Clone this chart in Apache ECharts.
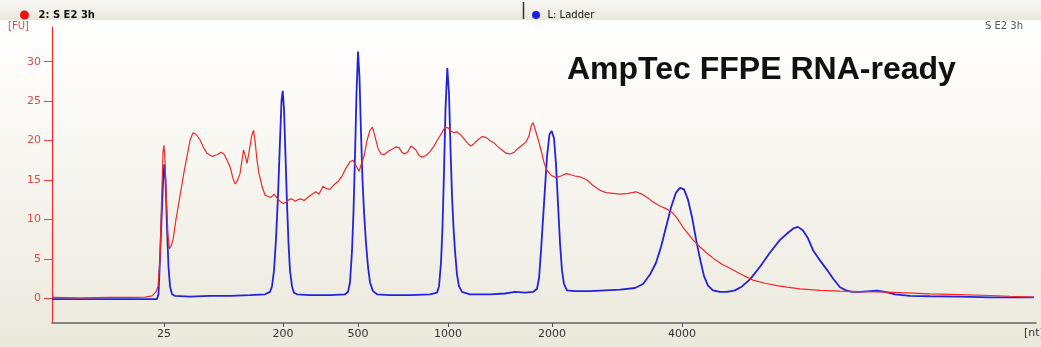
<!DOCTYPE html>
<html>
<head>
<meta charset="utf-8">
<script src="https://cdn.jsdelivr.net/npm/echarts@6/dist/echarts.min.js"></script>
<style>
  html, body { margin: 0; padding: 0; }
  #chart {
    width: 1041px;
    height: 347px;
    background: linear-gradient(to bottom, #ffffff 0%, #fbfaf7 30%, #f1efe6 75%, #ebe8dc 100%);
  }
</style>
</head>
<body>
<div id="chart"></div>
<script>
// electropherogram, x = migration position, y = fluorescence [FU]
const sampleName = '2: S E2 3h';
const ladderName = 'L: Ladder';

// sample trace (red)
const sampleTrace = [
  [52, 0.1], [80, 0.05], [110, 0.1], [130, 0.1], [145, 0.15], [152, 0.3], [156, 0.8], [158, 1.5],
  [160, 5], [161.5, 12], [163, 18.5], [164, 19.4], [165, 17.5], [166.5, 12], [168, 8], [169.5, 6.3],
  [171, 6.6], [173, 7.4], [176, 10], [180, 13], [184, 16], [187, 18], [190, 20], [193, 21],
  [196, 20.8], [200, 20.1], [204, 19], [207, 18.4], [212, 18.0], [217, 18.2], [221, 18.5], [224, 18.3],
  [227, 17.5], [230, 16.7], [233, 15.2], [235, 14.5], [237, 14.8], [240, 15.8], [242, 17.5], [243.5, 18.8],
  [245, 18.2], [247, 17.1], [249, 18.5], [251.5, 20.5], [253.5, 21.3], [255, 20], [257, 17.5], [259, 15.8],
  [262, 14.2], [265, 13.1], [268, 12.9], [271, 12.8], [274, 13.2], [277, 12.7], [280, 12.3], [283, 12.0],
  [286, 12.2], [289, 12.5], [292, 12.6], [295, 12.3], [298, 12.5], [301, 12.6], [304, 12.4], [308, 12.8],
  [312, 13.2], [316, 13.5], [319, 13.2], [323, 14.2], [326, 13.9], [330, 13.8], [334, 14.4], [338, 14.8],
  [342, 15.5], [346, 16.5], [350, 17.3], [353, 17.5], [356, 16.8], [359, 16.1], [361, 16.3], [364, 18],
  [367, 20], [370, 21.3], [372.5, 21.7], [375, 20.5], [378, 19], [381, 18.3], [384, 18.2], [388, 18.6],
  [392, 18.9], [396, 19.2], [399, 19.1], [402, 18.5], [405, 18.3], [408, 18.6], [411, 19.3], [413, 19.5],
  [416, 18.8], [419, 18.1], [422, 17.9], [426, 18.1], [430, 18.6], [434, 19.3], [438, 20.2], [442, 21.0],
  [445, 21.7], [448, 21.6], [451, 21.2], [454, 21.0], [457, 21.1], [460, 20.8], [464, 20.2], [468, 19.6],
  [471, 19.3], [474, 19.6], [478, 20.1], [482, 20.5], [486, 20.4], [490, 20.0], [494, 19.7], [498, 19.2],
  [502, 18.8], [506, 18.4], [510, 18.3], [514, 18.5], [518, 19.0], [522, 19.4], [526, 19.8], [529, 20.6],
  [531, 21.8], [533, 22.3], [535, 21.5], [538, 20.2], [541, 18.8], [544, 17.2], [547, 16.2], [551, 15.6],
  [556, 15.3], [561, 15.5], [566, 15.8], [570, 15.7], [575, 15.5], [580, 15.4], [587, 15.0], [593, 14.3],
  [600, 13.7], [606, 13.4], [613, 13.3], [620, 13.2], [628, 13.3], [636, 13.5], [642, 13.2], [648, 12.7],
  [653, 12.2], [660, 11.7], [667, 11.3], [673, 10.8], [678, 10.0], [683, 9.0], [688, 8.2], [693, 7.4],
  [700, 6.5], [707, 5.7], [715, 4.9], [722, 4.3], [730, 3.8], [740, 3.1], [753, 2.3], [765, 1.9],
  [777, 1.6], [787, 1.4], [800, 1.2], [820, 1.0], [840, 0.9], [860, 0.85], [880, 0.8], [900, 0.7],
  [930, 0.55], [960, 0.45], [990, 0.35], [1010, 0.25], [1034, 0.15]
];

// ladder trace (blue)
const ladderTrace = [
  [52, -0.1], [100, -0.1], [150, -0.1], [157, -0.1], [158.5, 0.5], [160, 5], [161.5, 10], [163, 14.5],
  [164.3, 17], [165.5, 15], [167, 9], [168.5, 4], [170, 1.5], [172, 0.5], [175, 0.3], [190, 0.2],
  [210, 0.3], [230, 0.3], [250, 0.4], [265, 0.5], [270, 0.8], [272, 1.5], [274, 3.5], [276, 7.5],
  [278, 13], [280, 20], [281.5, 25], [282.7, 26.3], [284, 24], [285.5, 18], [287, 12], [288.5, 7],
  [290, 3.5], [292, 1.5], [294, 0.7], [297, 0.5], [310, 0.4], [330, 0.4], [345, 0.5], [348, 0.8],
  [350, 2], [352, 6], [353.5, 11], [355, 18], [356.5, 26], [358, 31.3], [359.5, 28], [361, 21],
  [362.5, 15], [364, 11], [366, 7], [368, 4], [370, 2], [373, 0.9], [377, 0.5], [390, 0.4],
  [410, 0.4], [430, 0.5], [437, 0.7], [439, 1.5], [441, 4.5], [442.5, 9], [444, 16], [445.5, 24],
  [447.3, 29.2], [449, 26], [450.5, 19], [452, 13], [453.5, 9], [455, 6], [457, 3], [459, 1.5],
  [462, 0.8], [470, 0.5], [490, 0.5], [505, 0.6], [515, 0.8], [525, 0.7], [533, 0.8], [537, 1.2],
  [539, 2.5], [541, 6], [543, 10], [545, 14], [547, 18], [549.5, 20.8], [551.7, 21.2], [554, 20.3],
  [556, 17], [558, 12], [560, 7], [562, 3.5], [564, 1.8], [567, 1.0], [575, 0.9], [590, 0.9],
  [605, 1.0], [620, 1.1], [635, 1.3], [643, 1.8], [650, 3.0], [656, 4.5], [661, 6.5], [666, 9],
  [671, 11.5], [676, 13.4], [680, 14.0], [684, 13.8], [688, 12.5], [692, 10.3], [696, 7.5], [700, 5],
  [704, 2.8], [708, 1.6], [713, 1.0], [720, 0.8], [727, 0.8], [735, 1.0], [742, 1.5], [750, 2.4],
  [760, 4.0], [770, 5.8], [780, 7.4], [788, 8.3], [794, 8.9], [798, 9.05], [803, 8.6], [808, 7.6],
  [813, 6.1], [820, 4.8], [827, 3.6], [833, 2.5], [840, 1.4], [846, 1.0], [852, 0.8], [860, 0.8],
  [870, 0.9], [877, 0.95], [885, 0.8], [895, 0.5], [910, 0.3], [930, 0.25], [960, 0.2], [990, 0.1],
  [1034, 0.1]
];

// ladder sizes [nt] and where they sit on the migration axis
const xTickPos = [164, 283, 358, 448, 552, 682];
const xTickText = ['25', '200', '500', '1000', '2000', '4000'];
const yTicks = [0, 5, 10, 15, 20, 25, 30];

const chart = echarts.init(document.getElementById('chart'));

chart.setOption({
  animation: false,
  grid: {
    left: 52,
    right: 5,
    top: 27,
    bottom: 24,
  },
  legend: [
    {
      left: 15,
      top: 5,
      data: [sampleName],
      icon: 'circle',
      itemWidth: 10,
      itemHeight: 9,
      selectedMode: false,
      textStyle: { fontFamily: 'DejaVu Sans', fontSize: 10, fontWeight: 'bold', color: '#111', padding: [0, 0, 0, 4] },
    },
    {
      left: 527,
      top: 5,
      data: [ladderName],
      icon: 'circle',
      itemWidth: 9,
      itemHeight: 8,
      selectedMode: false,
      textStyle: { fontFamily: 'DejaVu Sans', fontSize: 10, color: '#111', padding: [0, 0, 0, 2] },
    },
  ],
  xAxis: {
    type: 'value',
    min: 52,
    max: 1036,
    axisLine: { onZero: false, lineStyle: { color: '#666', width: 1.5 } },
    axisTick: { show: true, length: 4, customValues: xTickPos, lineStyle: { color: '#555' } },
    axisLabel: {
      customValues: xTickPos,
      formatter: (v) => xTickText[xTickPos.indexOf(v)],
      color: '#333',
      fontFamily: 'DejaVu Sans',
      fontSize: 11,
      margin: 6,
    },
    splitLine: { show: false },
  },
  yAxis: {
    type: 'value',
    min: -3.14,
    max: 34.4,
    axisLine: { show: true, lineStyle: { color: '#ff2a2a', width: 1.2 } },
    axisTick: { show: true, length: 8, customValues: yTicks, lineStyle: { color: '#ff3a3a' } },
    axisLabel: {
      customValues: yTicks,
      color: '#e8474a',
      fontFamily: 'DejaVu Sans',
      fontSize: 11,
      margin: 11,
    },
    splitLine: { show: false },
  },
  graphic: [
    {
      type: 'rect',
      shape: { x: 0, y: 0, width: 1041, height: 20 },
      style: {
        fill: new echarts.graphic.LinearGradient(0, 0, 0, 1, [
          { offset: 0, color: '#f8f8f4' },
          { offset: 1, color: '#e9e7dc' },
        ]),
      },
      z: -1,
    },
    {
      type: 'line',
      shape: { x1: 523.5, y1: 2, x2: 523.5, y2: 19 },
      style: { stroke: '#333', lineWidth: 1.5 },
    },
    {
      type: 'text',
      left: 8,
      top: 21,
      style: { text: '[FU]', fill: '#ee4444', font: '10px "DejaVu Sans"' },
    },
    {
      type: 'text',
      right: 18,
      top: 21,
      style: { text: 'S E2 3h', fill: '#555', font: '10px "DejaVu Sans"' },
    },
    {
      type: 'text',
      left: 1024,
      top: 328,
      style: { text: '[nt]', fill: '#333', font: '11px "DejaVu Sans"' },
    },
    {
      type: 'text',
      x: 567,
      y: 70,
      style: {
        text: 'AmpTec FFPE RNA-ready',
        fill: '#111',
        font: 'bold 32px "Liberation Sans"',
        verticalAlign: 'middle',
      },
    },
  ],
  series: [
    {
      name: ladderName,
      type: 'line',
      data: ladderTrace,
      showSymbol: false,
      color: '#1f1fe0',
      lineStyle: { width: 1.8, color: '#2323dd' },
    },
    {
      name: sampleName,
      type: 'line',
      data: sampleTrace,
      showSymbol: false,
      color: '#ee1111',
      lineStyle: { width: 1.2, color: '#ee2a2a' },
    },
  ],
});
</script>
</body>
</html>
